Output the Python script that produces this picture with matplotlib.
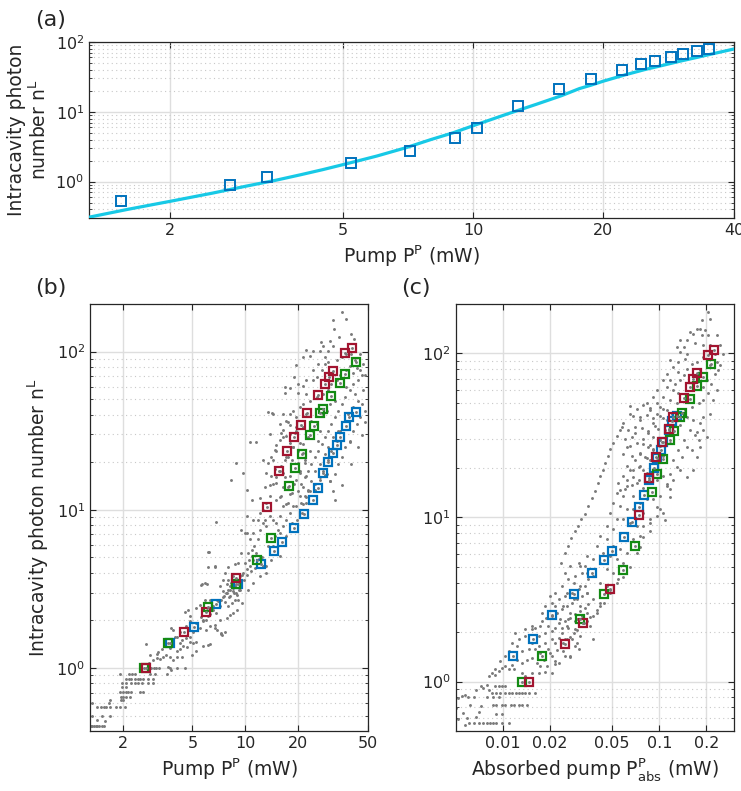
import numpy as np
import matplotlib
matplotlib.use("Agg")
import matplotlib.pyplot as plt
from matplotlib.ticker import (FixedLocator, FixedFormatter, NullLocator, NullFormatter,
                               LogLocator, LogFormatterSciNotation)

# ---------------- panel (a): one measurement series and its model curve
a_pump = [1.54, 2.75, 3.34, 5.23, 7.16, 9.11, 10.2, 12.7, 15.8, 18.7, 22.1, 24.4, 26.3, 28.6, 30.5, 32.8, 35.1]
a_nL = [0.52, 0.89, 1.17, 1.84, 2.76, 4.14, 5.84, 12.2, 21.2, 29.7, 40.0, 48.8, 53.4, 61.0, 67.3, 74.3, 79.4]
fit_pump = [1.3, 1.6, 2.0, 2.5, 3.0, 3.5, 4.0, 4.5, 5.0, 5.5, 6.0, 7.0, 8.0, 9.0, 10, 12, 14, 16,
            17.6, 18.7, 20, 22.5, 25, 27.5, 30, 33, 36, 40]
fit_nL = [0.308, 0.40, 0.52, 0.68, 0.86, 1.04, 1.25, 1.48, 1.74, 2.02, 2.32, 3.05, 4.0, 5.0, 6.3, 9.3,
          12.8, 17.0, 21.5, 24.0, 27.5, 34.0, 40.5, 46.5, 53.0, 60.5, 68.5, 79.4]

# ---------------- panels (b), (c): three series, same photon numbers
nL_red = [1.0, 1.70, 2.27, 3.68, 10.4, 17.5, 23.5, 29.0, 34.4, 40.8, 53.2, 62.2, 69.5, 75.5, 97.5, 105]
pump_red = [2.70, 4.48, 5.96, 8.92, 13.4, 15.6, 17.4, 19.05, 20.8, 22.6, 26.0, 28.5, 30.2, 31.7, 37.4, 40.7]
abs_red = [0.0148, 0.0248, 0.0327, 0.0486, 0.0738, 0.0855, 0.0952, 0.1045, 0.1147, 0.1222, 0.1437,
           0.1578, 0.1648, 0.1748, 0.2055, 0.2222]

nL_green = [1.0, 1.43, 2.42, 3.41, 4.79, 6.66, 14.2, 18.5, 22.6, 29.8, 33.8, 40.8, 43.3, 52.5, 63.4, 71.9, 86.1]
pump_green = [2.65, 3.61, 6.17, 8.84, 11.66, 14.1, 17.9, 19.3, 21.2, 23.4, 24.6, 26.9, 27.9, 31.0, 34.9, 37.4, 42.9]
abs_green = [0.01329, 0.01792, 0.03117, 0.0446, 0.0583, 0.0703, 0.0894, 0.0966, 0.1060, 0.1175, 0.1240,
             0.1355, 0.1395, 0.1569, 0.1748, 0.1890, 0.2127]

nL_blue = [1.43, 1.82, 2.55, 3.40, 4.56, 5.51, 6.22, 7.62, 9.34, 11.6, 13.8, 17.0, 20.0, 23.0, 25.6, 29.0,
           34.1, 38.5, 41.8]
pump_blue = [3.74, 5.07, 6.80, 9.12, 12.3, 14.6, 16.2, 19.05, 21.6, 24.3, 26.0, 27.9, 29.9, 31.7, 33.4, 34.8,
             37.9, 39.3, 43.1]
abs_blue = [0.01153, 0.01562, 0.02065, 0.0285, 0.0374, 0.0446, 0.0501, 0.0592, 0.0672, 0.0745, 0.0798, 0.0863,
            0.0920, 0.097, 0.1020, 0.1050, 0.116, 0.1205, 0.1290]

# gray cloud of all runs, (pump mW, photon number)
b_cloud = [
    (1.31, .43), (1.34, .43), (1.37, .43), (1.40, .43), (1.43, .43), (1.47, .43), (1.52, .43), (1.56, .43),
    (1.43, .47), (1.58, .46), (1.34, .50), (1.53, .50), (1.70, .50),
    (1.42, .57), (1.51, .57), (1.56, .57), (1.61, .57), (1.69, .57), (1.82, .57), (1.92, .57), (2.05, .57),
    (1.33, .60), (1.67, .60), (1.70, .63), (1.96, .63), (2.0, .63),
    (1.96, .66), (2.0, .66), (2.08, .66), (2.2, .66),
    (1.94, .71), (2.0, .71), (2.08, .71), (2.14, .71), (2.24, .71), (2.5, .71), (2.62, .71),
    (1.97, .76), (2.1, .76),
    (1.99, .80), (2.1, .80), (2.24, .80), (2.34, .80), (2.44, .80), (2.59, .80), (2.79, .80), (2.98, .80),
    (2.1, .85), (2.17, .85), (2.24, .85), (2.34, .85), (2.44, .85), (2.5, .85), (2.62, .85), (2.79, .85), (2.98, .85),
    (1.92, .92), (2.17, .91), (2.27, .91), (2.34, .91), (2.86, .91), (3.05, .91),
    (2.8, 1.0), (2.9, 1.0), (3.0, 1.0), (3.1, 1.0), (3.2, 1.0), (3.72, 1.0),
    (2.83, 1.08), (2.98, 1.13), (3.12, 1.16), (3.26, 1.14), (3.40, 1.17), (3.55, 1.21), (2.85, 1.21), (3.12, 1.22),
    (3.72, 1.18), (3.88, 1.13), (4.06, 1.18), (4.33, 1.18), (3.63, 1.02), (3.79, 0.975), (3.58, 0.91), (4.09, 1.0),
    (4.52, 1.0), (2.73, 1.42), (3.19, 1.27), (3.33, 1.32), (3.47, 1.37), (3.72, 1.34), (3.85, 1.42), (4.06, 1.29),
    (4.24, 1.32), (4.43, 1.37), (4.67, 1.35), (4.94, 1.20), (5.27, 1.29), (4.83, 1.47), (4.33, 1.51), (3.96, 1.57),
    (3.79, 1.79), (3.88, 1.73),
    (4.52, 2.26), (4.72, 2.33), (5.27, 2.39), (5.51, 2.51), (5.89, 2.70), (4.83, 1.97), (5.27, 1.92), (5.75, 2.02),
    (6.15, 2.12), (6.28, 1.83), (6.71, 1.88), (6.87, 1.75), (7.33, 1.62), (7.66, 1.70), (7.83, 2.07), (8.18, 2.17),
    (8.54, 2.22), (8.93, 2.33), (8.0, 2.45), (8.36, 2.57), (7.48, 2.83), (7.83, 2.98), (8.18, 3.12), (8.54, 3.05),
    (8.93, 2.90), (7.16, 3.28), (7.48, 3.61), (6.87, 2.70), (6.28, 2.70), (6.56, 2.45), (6.03, 2.33), (4.06, 1.58),
    (4.24, 1.44), (4.62, 1.55), (4.83, 1.58), (5.05, 1.70), (5.51, 1.79), (4.24, 1.70), (5.05, 1.44), (5.27, 1.47),
    (5.75, 1.37), (6.15, 1.40), (6.15, 4.38), (6.71, 4.38), (8.0, 4.38), (8.73, 4.56), (7.66, 3.98), (5.64, 3.40),
    (6.03, 3.40), (4.83, 2.12), (4.62, 1.83),
    (5.6, 2.1), (5.75, 1.97), (6.0, 2.0), (6.3, 2.2), (6.55, 2.33), (6.85, 2.22), (7.15, 2.45), (7.0, 2.65),
    (7.3, 2.7), (7.6, 2.84), (7.8, 2.98), (8.0, 3.13), (7.5, 3.05), (8.2, 3.28), (8.35, 3.45), (8.5, 3.2),
    (8.2, 2.84), (8.9, 2.98), (9.3, 3.13), (9.55, 2.57), (9.1, 2.7), (7.15, 2.0), (6.7, 1.78), (7.3, 1.66),
    (6.0, 1.75), (8.0, 3.6), (8.5, 3.8), (9.3, 3.8), (9.75, 4.0), (10.2, 4.2), (10.0, 4.6), (10.6, 4.4),
    (11.1, 4.83), (10.4, 5.3), (10.9, 5.6), (11.3, 5.9), (11.9, 6.5), (10.6, 6.5), (10.2, 7.1), (11.1, 7.1),
    (12.1, 7.5), (12.7, 8.2), (13.2, 7.85), (13.0, 8.65), (13.8, 9.1), (14.5, 8.65), (15.1, 8.2), (15.8, 9.1),
    (11.9, 8.65), (11.6, 5.3), (12.4, 5.05), (12.7, 4.4), (13.2, 4.0), (14.1, 4.83), (13.5, 5.87), (14.8, 6.8),
    (15.5, 7.5), (15.8, 7.1), (16.5, 7.85), (17.2, 8.65), (18.0, 9.5), (18.8, 10.5), (17.6, 11.0), (16.5, 10.5),
    (15.1, 11.6), (16.1, 12.2), (13.8, 12.2), (13.2, 11.0), (12.1, 9.5), (12.7, 10.0), (11.1, 8.65), (10.2, 9.1),
    (10.0, 7.1), (9.5, 7.5), (9.5, 5.3), (9.1, 4.6), (10.2, 13.3), (10.9, 11.6), (12.1, 11.9), (13.0, 14.0),
    (13.8, 14.3), (14.1, 16.3), (13.2, 17.1), (14.8, 18.0), (12.7, 20.7), (13.5, 19.7), (14.1, 21.7), (14.8, 23.9),
    (15.1, 25.8), (15.8, 27.7), (16.1, 30.5), (16.5, 32.0), (17.2, 29.1), (18.0, 26.4), (18.8, 25.1), (17.6, 21.7),
    (16.8, 20.7), (16.1, 18.8), (16.5, 17.1), (18.0, 16.3), (17.6, 14.0), (18.4, 12.7), (16.5, 14.0), (15.1, 14.7),
    (19.6, 15.5), (20.5, 17.1), (20.0, 19.7), (19.2, 30.5), (19.6, 33.6), (18.0, 34.5), (17.6, 36.0), (20.5, 26.4),
    (21.4, 22.8), (21.9, 19.7), (22.4, 16.3), (21.4, 14.0), (20.5, 12.2), (19.6, 10.5), (20.9, 11.0), (21.9, 12.2),
    (22.9, 13.3), (10.6, 26.7), (11.6, 26.7), (8.9, 19.7), (8.35, 15.5), (9.75, 17.1), (6.85, 8.4), (6.1, 5.45),
    (6.7, 4.4), (5.9, 3.45), (5.6, 3.35), (7.3, 1.63), (6.3, 1.42), (6.2, 5.4),
    (8.6, 3.0), (8.8, 3.3), (9.0, 3.6), (9.3, 3.5), (9.6, 3.9), (9.8, 3.6), (10.3, 3.9), (10.8, 4.1), (8.7, 2.7),
    (9.2, 3.1), (7.7, 2.6), (8.1, 2.8), (7.9, 3.4), (10.5, 4.8), (11.4, 4.3), (12.0, 4.9), (11.0, 5.1),
    (17.2, 6.8), (18.4, 8.2), (19.9, 8.65), (21.0, 9.5), (22.4, 11.0), (25.0, 13.4), (26.7, 15.5), (15.8, 5.07),
    (13.2, 4.39), (12.1, 3.79), (11.1, 3.44), (10.4, 3.12), (14.5, 5.87), (12.1, 5.07),
    (35.6, 177), (37.6, 161), (31.8, 158), (32.1, 139), (34.4, 124), (30.5, 117), (31.8, 108), (27.9, 109),
    (26.7, 101), (24.5, 101), (23.4, 94), (21.4, 92), (19.4, 82), (19.1, 69), (16.8, 55), (18.0, 59), (20.0, 62.5),
    (21.4, 61), (22.4, 66), (24.5, 66), (25.6, 69), (27.3, 76), (28.5, 84), (29.8, 86), (33.3, 89), (35.6, 92),
    (37.9, 97), (40.5, 97), (42.3, 89), (43.3, 79), (45.2, 76), (46.2, 71), (44.2, 66), (41.4, 62.5), (39.6, 56.8),
    (37.1, 51.5), (35.6, 46.7), (34.0, 42.4), (32.5, 38.5), (31.1, 34.9), (29.8, 31.7), (28.5, 28.8), (27.3, 26.1),
    (26.1, 23.7), (25.0, 21.5), (23.9, 19.5), (22.9, 17.7), (21.9, 16.1), (20.9, 14.6), (20.0, 13.2), (45.2, 97),
    (47.2, 84), (47.2, 56.8), (44.2, 49), (41.4, 44.5), (38.7, 40.5), (37.1, 36.6), (34.8, 31.7), (33.3, 27.4),
    (31.1, 23.7), (29.8, 20.5), (27.9, 17.7), (26.7, 16.1), (25.0, 14.6), (23.4, 13.2), (22.4, 12.0), (21.4, 10.9),
    (15.1, 23.7), (14.5, 20.5), (16.5, 28.8), (18.0, 30.2), (19.6, 38.5), (21.4, 46.7), (23.4, 49), (25.6, 51.5),
    (27.9, 54), (29.8, 56.8), (31.1, 62.5), (33.3, 66), (34.8, 71), (18.0, 40.5), (16.5, 40.5), (15.8, 34.9),
    (17.2, 36.6), (18.8, 42.4), (20.5, 44.5), (22.4, 40.5), (23.9, 36.6), (25.6, 34.9), (26.7, 31.7), (27.9, 40.5),
    (29.2, 42.4), (30.5, 46.7), (32.5, 49), (18.8, 24.9), (17.2, 21.5), (15.8, 17.7), (15.1, 16.1), (14.5, 14.6),
    (16.8, 16.1), (18.4, 20.5), (20.0, 23.7), (21.4, 26.1), (22.9, 28.8), (24.5, 31.7), (26.1, 27.4), (21.9, 20.5),
    (23.4, 23.7), (20.5, 17.7), (19.1, 14.6), (18.0, 12.6), (25.0, 17.7), (26.7, 19.5), (28.5, 22.6), (29.8, 24.9),
    (31.8, 28.8), (34.0, 31.7), (23.9, 15.3), (22.9, 13.2), (29.2, 16.9), (30.5, 15.3), (32.5, 16.9), (34.0, 19.5),
    (35.6, 21.5), (37.1, 24.9), (39.6, 27.4), (41.4, 31.7), (43.3, 34.9), (45.2, 38.5), (48.2, 42.4), (46.2, 46.7),
    (42.3, 54), (37.9, 59.6), (48.2, 71), (21.4, 33.3), (19.6, 31.7), (14.5, 40.5), (13.8, 30.2), (20.0, 55),
    (22.4, 54), (24.5, 76), (26.1, 84), (28.5, 92), (29.8, 101), (37.9, 76), (39.6, 81), (41.4, 73), (15.8, 12.0),
    (17.2, 10.9), (32.5, 11.5), (35.6, 14.3), (40.5, 19.5), (44.2, 24.9), (46.2, 29.5), (48.2, 35.7), (31.9, 13.1),
    (30.5, 15.1), (39.7, 27.0), (28.5, 16.6), (40.5, 130), (27.0, 115), (42.0, 120), (22.4, 102), (16.9, 60),
    (13.5, 41.4), (14.3, 41.2),
]

# gray cloud of all runs, (absorbed pump mW, photon number)
c_cloud = [
    (.00604, .56), (.0065, .56), (.0070, .56), (.0075, .56), (.0079, .56), (.0083, .56), (.0087, .56),
    (.0091, .56), (.0099, .56), (.0109, .56), (.0059, .60), (.0067, .61), (.0070, .65), (.0056, .64),
    (.0091, .63), (.0099, .63), (.0087, .72), (.0091, .72), (.0099, .72), (.0104, .72), (.0112, .72),
    (.0117, .72), (.0126, .72), (.0132, .72), (.0142, .72), (.0062, .72), (.0072, .71), (.006, .80),
    (.0065, .80), (.0079, .80), (.0087, .80), (.0094, .80), (.0052, .79), (.0055, .82), (.0057, .83),
    (.0085, .855), (.0091, .855), (.0096, .855), (.0104, .855), (.0109, .855), (.0115, .855), (.0121, .855),
    (.0127, .855), (.0132, .855), (.0139, .855), (.0146, .855), (.0161, .855), (.0089, .94), (.0094, .94),
    (.0099, .94), (.0104, .94), (.0067, .89), (.0072, .94), (.0075, .91), (.0079, .95), (.0081, .89),
    (.005, .69), (.0052, .59), (.0057, .54),
    (.0081, 1.08), (.0085, 1.13), (.0089, 1.19), (.0094, 1.16), (.0099, 1.21), (.0104, 1.24), (.0109, 1.19),
    (.0117, 1.19), (.0114, 1.27), (.0123, 1.36), (.0132, 1.30), (.0142, 1.36), (.0153, 1.39), (.0165, 1.30),
    (.0173, 1.24), (.0191, 1.24), (.0182, 1.36), (.0205, 1.43), (.0216, 1.33), (.0195, 1.57), (.0173, 1.50),
    (.0161, 1.57), (.0146, 1.57), (.0132, 1.54), (.0123, 1.65), (.0109, 1.54), (.0104, 1.43), (.0096, 1.33),
    (.0089, 1.10), (.0132, 1.13), (.0139, 1.08), (.0153, 1.13), (.0169, 1.13), (.0186, 1.14), (.0205, 1.13),
    (.0216, 1.28), (.0227, 1.30), (.0250, 1.43), (.0269, 1.43), (.0244, 1.54), (.0216, 1.73), (.0186, 1.73),
    (.0169, 1.65), (.0153, 1.73), (.0139, 1.90), (.0126, 1.81), (.0114, 1.73), (.0120, 1.99), (.0139, 2.08),
    (.0153, 2.08), (.0169, 1.90), (.0186, 1.99), (.0205, 2.04), (.0227, 1.85), (.0238, 1.99), (.0262, 2.13),
    (.0290, 2.08), (.0276, 1.81), (.0298, 1.73), (.0250, 1.81), (.0205, 1.81),
    (.0177, 2.33), (.019, 2.45), (.0205, 2.51), (.0221, 2.63), (.0238, 2.76), (.0256, 2.89), (.0276, 3.03),
    (.0297, 3.17), (.0319, 3.32), (.0344, 3.47), (.0227, 2.28), (.025, 2.33), (.0269, 2.45), (.029, 2.57),
    (.0312, 2.70), (.0335, 2.82), (.0352, 2.96), (.0195, 2.18), (.0216, 2.13), (.0238, 2.13), (.0262, 2.39),
    (.0173, 2.18), (.0161, 2.13), (.0186, 2.89), (.0205, 3.03), (.0227, 3.17), (.025, 3.32), (.0276, 3.47),
    (.0305, 3.64), (.0335, 3.82), (.0216, 3.47), (.0238, 3.82), (.0262, 4.19), (.029, 4.39), (.0319, 4.61),
    (.0352, 4.83), (.025, 4.61), (.0269, 5.06), (.0305, 5.30), (.0216, 2.89), (.02, 3.32), (.0177, 2.63),
    (.0319, 2.51), (.0344, 2.33), (.029, 2.33), (.0352, 4.19), (.0335, 5.06), (.0153, 2.18),
    (.059, 37.7), (.0561, 34.3), (.0535, 31.3), (.0509, 28.5), (.0484, 26.0), (.0473, 23.6), (.0450, 21.5),
    (.0435, 19.6), (.0418, 17.8), (.0408, 16.2), (.0388, 14.5), (.0369, 13.2), (.0351, 11.7), (.0333, 10.5),
    (.0317, 9.72), (.0302, 8.85), (.0288, 8.25), (.0274, 7.5), (.0262, 6.69), (.0250, 6.09), (.0237, 5.3),
    (.0651, 47.7), (.0717, 45.5), (.079, 48.8), (.0872, 46.6), (.096, 50.0), (.106, 45.5), (.0683, 41.4),
    (.0753, 39.5), (.083, 42.4), (.0916, 40.4), (.101, 41.4), (.1115, 39.5), (.0635, 34.3), (.07, 32.8),
    (.0771, 35.2), (.085, 33.6), (.0938, 36.0), (.0717, 28.5), (.079, 29.9), (.0872, 27.8), (.0651, 27.2),
    (.0605, 29.9), (.0667, 23.6), (.0753, 24.8), (.083, 23.0), (.0916, 26.0), (.101, 27.2), (.1115, 32.8),
    (.117, 28.5), (.106, 23.6), (.096, 21.5), (.0619, 20.5), (.0683, 19.6), (.0753, 20.5), (.083, 18.7),
    (.059, 17.8), (.0548, 16.2), (.0619, 15.5), (.0717, 16.2), (.079, 15.1), (.0872, 16.2), (.096, 17.0),
    (.106, 17.8), (.1115, 15.5), (.101, 13.5), (.0916, 12.9), (.083, 12.9), (.0753, 12.3), (.0683, 13.5),
    (.059, 13.5), (.0535, 14.1), (.0509, 12.3), (.0561, 11.7), (.0619, 11.2), (.0683, 11.2), (.079, 10.7),
    (.0872, 9.72), (.096, 10.2), (.101, 11.2), (.0484, 10.7), (.0535, 9.72), (.059, 9.72), (.0651, 9.3),
    (.0717, 8.85), (.079, 8.85), (.0872, 8.25), (.0461, 8.85), (.0509, 8.45), (.0561, 8.07), (.0619, 8.07),
    (.0683, 7.35), (.0753, 7.7), (.0418, 7.7), (.0461, 7.35), (.0509, 6.69), (.0561, 6.4), (.0619, 6.09),
    (.0398, 6.69), (.0439, 6.09), (.0484, 5.8), (.0535, 5.55), (.059, 5.3), (.0344, 5.8), (.0379, 5.55),
    (.0418, 5.3), (.0461, 4.83), (.0509, 4.61), (.0548, 4.19), (.0312, 5.06), (.0344, 4.61), (.0379, 4.4),
    (.0418, 4.0), (.0461, 3.82), (.0484, 3.47), (.0283, 4.0), (.0312, 3.82), (.0344, 3.47), (.0379, 3.17),
    (.0418, 3.03), (.0256, 3.47), (.0283, 3.17), (.0312, 2.89), (.0344, 2.63), (.0379, 2.51), (.0244, 2.89),
    (.027, 2.63), (.0297, 2.39), (.0328, 2.28), (.0361, 2.18), (.0232, 2.39), (.0256, 2.18), (.0283, 1.99),
    (.0312, 1.90), (.0418, 2.89), (.0398, 2.63), (.0379, 1.81), (.029, 1.65), (.0256, 1.81), (.0305, 1.58),
    (.205, 179), (.186, 159), (.21, 163), (.182, 141), (.196, 138), (.174, 141), (.165, 132), (.157, 135),
    (.186, 129), (.205, 129), (.232, 129), (.1496, 120), (.169, 115), (.191, 112), (.21, 112), (.226, 99),
    (.232, 88.9), (.143, 110), (.1355, 102), (.1496, 99), (.132, 88.9), (.146, 93), (.161, 86.7), (.174, 88.9),
    (.191, 95), (.21, 84.7), (.226, 75.3), (.123, 82.7), (.132, 77.1), (.143, 73.6), (.1496, 80.8), (.182, 78.9),
    (.2006, 68.6), (.215, 65.5), (.232, 59.7), (.117, 68.6), (.126, 65.5), (.1355, 68.6), (.174, 67), (.191, 62.5),
    (.205, 57), (.1114, 62.5), (.123, 59.7), (.132, 57), (.191, 51.8), (.178, 49.5), (.161, 47.2), (.146, 45.1),
    (.106, 54.3), (.117, 51.8), (.129, 49.5), (.101, 47.2), (.1114, 45.1), (.12, 43), (.0963, 43), (.106, 40.1),
    (.1496, 41.0), (.165, 39.2), (.182, 37.4), (.191, 34.0), (.2006, 31.0), (.0916, 37.4), (.0987, 34.8),
    (.109, 34.0), (.157, 34.0), (.169, 31.7), (.178, 29.5), (.0852, 32.5), (.0916, 31.0), (.101, 29.5),
    (.143, 29.5), (.1496, 26.9), (.161, 25.7), (.079, 28.2), (.0852, 26.9), (.0916, 25.7), (.132, 25.7),
    (.139, 23.4), (.0753, 24.5), (.081, 23.4), (.0873, 22.4), (.123, 22.4), (.129, 20.3), (.1355, 19.4),
    (.0702, 22.4), (.0737, 20.3), (.079, 19.4), (.117, 18.5), (.123, 16.9), (.0652, 19.4), (.0683, 17.7),
    (.0737, 16.9), (.1114, 16.1), (.117, 15.0), (.0619, 16.9), (.0667, 15.7), (.0561, 14.7), (.0604, 15.0),
    (.0753, 41.0), (.0702, 35.7), (.0667, 31.0), (.0619, 26.9), (.059, 24.5), (.083, 49.5), (.0916, 54.3),
    (.0963, 59.7), (.106, 68.6), (.1114, 75.3), (.117, 91), (.129, 110), (.1355, 120), (.0873, 45.1),
    (.0652, 43), (.0575, 35.7), (.165, 19.4), (.1496, 17.7), (.174, 23.4), (.182, 26.9), (.244, 112), (.256, 99),
    (.244, 84.7), (.238, 78.9), (.221, 51.8), (.21, 43), (.191, 41), (.1355, 36.5), (.174, 33.2),
    (.106, 10.6), (.108, 9.6), (.117, 13.4), (.0962, 11.6), (.087, 9.2), (.079, 7.6), (.075, 6.65), (.0717, 6.05),
    (.065, 5.0), (.059, 4.36), (.0533, 3.97), (.0484, 3.6), (.044, 3.0), (.0398, 2.73), (.036, 2.49),
    (.0327, 2.27), (.0296, 2.06), (.0269, 1.88), (.0243, 1.71), (.0221, 1.56), (.02, 1.49), (.0269, 1.42),
]

GRAY = "#7a7a7a"
RED, GREEN, BLUE = "#a2142f", "#138a13", "#0072bd"
INK = "#262626"


def style_axes(ax, xticks, xlabels, xlim, ylim):
    ax.set_xscale("log")
    ax.set_yscale("log")
    ax.set_xlim(xlim)
    ax.set_ylim(ylim)
    ax.xaxis.set_major_locator(FixedLocator(xticks))
    ax.xaxis.set_major_formatter(FixedFormatter(xlabels))
    ax.xaxis.set_minor_locator(NullLocator())
    ax.yaxis.set_major_locator(LogLocator(base=10, numticks=12))
    ax.yaxis.set_minor_locator(LogLocator(base=10, subs=np.arange(2, 10), numticks=12))
    ax.yaxis.set_major_formatter(LogFormatterSciNotation())
    ax.yaxis.set_minor_formatter(NullFormatter())
    ax.set_axisbelow(True)
    ax.grid(True, which="major", color="#dedede", lw=1.0)
    ax.grid(True, which="minor", axis="y", color="#c8c8c8", ls=(0, (1, 3)), lw=0.8)
    ax.tick_params(which="both", direction="in", top=True, right=True, color=INK,
                   labelsize=11.5, labelcolor=INK)
    ax.tick_params(which="major", length=4, width=0.8)
    ax.tick_params(which="minor", length=2.5, width=0.6)
    for s in ax.spines.values():
        s.set_color(INK)
        s.set_linewidth(0.9)


def draw_cloud(ax, cloud, series):
    cx, cy = zip(*cloud)
    ax.plot(cx, cy, "o", ms=2.1, color=GRAY, mew=0, zorder=2)
    for xs, ys, col in series:
        ax.plot(xs, ys, "s", ms=6.0, mfc="none", mec=col, mew=1.6, zorder=3)
    for xs, ys, col in series:
        ax.plot(xs, ys, "o", ms=2.1, color=GRAY, mew=0, zorder=4)


def main():
    plt.rcParams.update({"font.family": "DejaVu Sans", "mathtext.fontset": "dejavusans"})
    fig = plt.figure(figsize=(7.41, 7.91), dpi=100)

    ax_a = fig.add_axes([0.1201, 0.7244, 0.8704, 0.2225])
    ax_a.plot(fit_pump, fit_nL, "-", color="#17c9e6", lw=2.3, zorder=3)
    ax_a.plot(a_pump, a_nL, "s", ms=7.4, mfc="none", mec=BLUE, mew=1.4, zorder=4)
    style_axes(ax_a, [2, 5, 10, 20, 40], ["2", "5", "10", "20", "40"], (1.3, 40), (0.3, 100))
    ax_a.set_xlabel(r"Pump P$^{\rm P}$ (mW)", fontsize=13.5, color=INK)
    ax_a.set_ylabel("Intracavity photon\n" + r"number n$^{\rm L}$", fontsize=13.5, color=INK,
                    linespacing=1.1)

    ax_b = fig.add_axes([0.1215, 0.0759, 0.3755, 0.5398])
    draw_cloud(ax_b, b_cloud, [(pump_blue, nL_blue, BLUE), (pump_green, nL_green, GREEN),
                               (pump_red, nL_red, RED)])
    style_axes(ax_b, [2, 5, 10, 20, 50], ["2", "5", "10", "20", "50"], (1.3, 50.5), (0.4, 200))
    ax_b.set_xlabel(r"Pump P$^{\rm P}$ (mW)", fontsize=13.5, color=INK)
    ax_b.set_ylabel(r"Intracavity photon number n$^{\rm L}$", fontsize=13.5, color=INK)

    ax_c = fig.add_axes([0.6150, 0.0759, 0.3756, 0.5398])
    draw_cloud(ax_c, c_cloud, [(abs_blue, nL_blue, BLUE), (abs_green, nL_green, GREEN),
                               (abs_red, nL_red, RED)])
    style_axes(ax_c, [0.01, 0.02, 0.05, 0.1, 0.2], ["0.01", "0.02", "0.05", "0.1", "0.2"],
               (0.005, 0.3), (0.5, 200))
    ax_c.set_xlabel(r"Absorbed pump P$^{\rm P}_{\rm abs}$ (mW)", fontsize=13.5, color=INK)

    for label, x, y in [("(a)", 0.048, 0.975), ("(b)", 0.048, 0.636), ("(c)", 0.542, 0.636)]:
        fig.text(x, y, label, fontsize=16, color=INK, va="center", ha="left")

    fig.savefig("out.png", dpi=100)
    plt.close(fig)


if __name__ == "__main__":
    main()
